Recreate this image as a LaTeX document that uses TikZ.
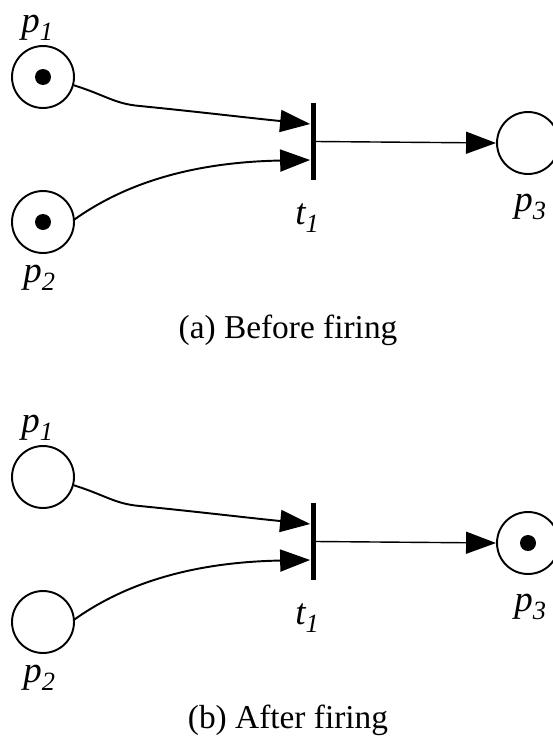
\documentclass[tikz,border=0pt]{standalone}
\usepackage{fontspec}
\setmainfont{Liberation Serif}
\usetikzlibrary{calc,arrows.meta}
\newcommand{\lblsub}[1]{\raisebox{-0.22em}{\fontsize{15}{15}\selectfont #1}}

\begin{document}
\begin{tikzpicture}[x=0.02cm, y=-0.02cm,
    place/.style={draw, circle, line width=1.1pt, minimum size=1.24cm, inner sep=0pt},
    trans/.style={fill, rectangle, minimum width=0.1cm, minimum height=1.54cm, inner sep=0pt},
    flow/.style={line width=1.1pt, -{Triangle[length=0.6cm, width=0.44cm]}},
    lbl/.style={anchor=base west, inner sep=0pt, font=\fontsize{21}{24}\selectfont\itshape},
    caption/.style={anchor=base, inner sep=0pt, font=\fontsize{19}{22}\selectfont}]
    \useasboundingbox (0,0) rectangle (553,744);
    % (a) before firing
    \node[place] (pa1) at (43,77) {};
    \node[place] (pa2) at (43,222) {};
    \node[place] (pa3) at (528,143) {};
    \node[trans] (ta) at (313,141.5) {};
    \foreach \p in {pa1,pa2} {\fill (\p) circle (0.16cm);}
    \draw[flow] (pa1.-15) .. controls (105,95) and (115,104) .. (140,106)
        .. controls (200,112) and (250,118) .. ($(ta.west)+(0,-17.5)$);
    \draw[flow] (pa2.5) .. controls (130,180) and (200,162) .. ($(ta.west)+(0,18.5)$);
    \draw[flow, line width=0.8pt] (ta.east) -- (pa3.west);
    \node[lbl] (la1) at (21,32) {p\lblsub{1}};
    \node[lbl] (la2) at (23,282) {p\lblsub{2}};
    \node[lbl] (lta) at (295,224) {t\lblsub{1}};
    \node[lbl] (la3) at (514,211) {p\lblsub{3}};
    \node[caption] (capa) at (288,338) {(a) Before firing};
    % (b) after firing
    \node[place] (pb1) at (43,477) {};
    \node[place] (pb2) at (43,622) {};
    \node[place] (pb3) at (528,543) {};
    \node[trans] (tb) at (313,541.5) {};
    \fill (pb3) circle (0.16cm);
    \draw[flow] (pb1.-15) .. controls (105,495) and (115,504) .. (140,506)
        .. controls (200,512) and (250,518) .. ($(tb.west)+(0,-17.5)$);
    \draw[flow] (pb2.5) .. controls (130,580) and (200,562) .. ($(tb.west)+(0,18.5)$);
    \draw[flow, line width=0.8pt] (tb.east) -- (pb3.west);
    \node[lbl] (lb1) at (21,432) {p\lblsub{1}};
    \node[lbl] (lb2) at (23,682) {p\lblsub{2}};
    \node[lbl] (ltb) at (295,624) {t\lblsub{1}};
    \node[lbl] (lb3) at (514,611) {p\lblsub{3}};
    \node[caption] (capb) at (288,728) {(b) After firing};
\end{tikzpicture}
\end{document}
